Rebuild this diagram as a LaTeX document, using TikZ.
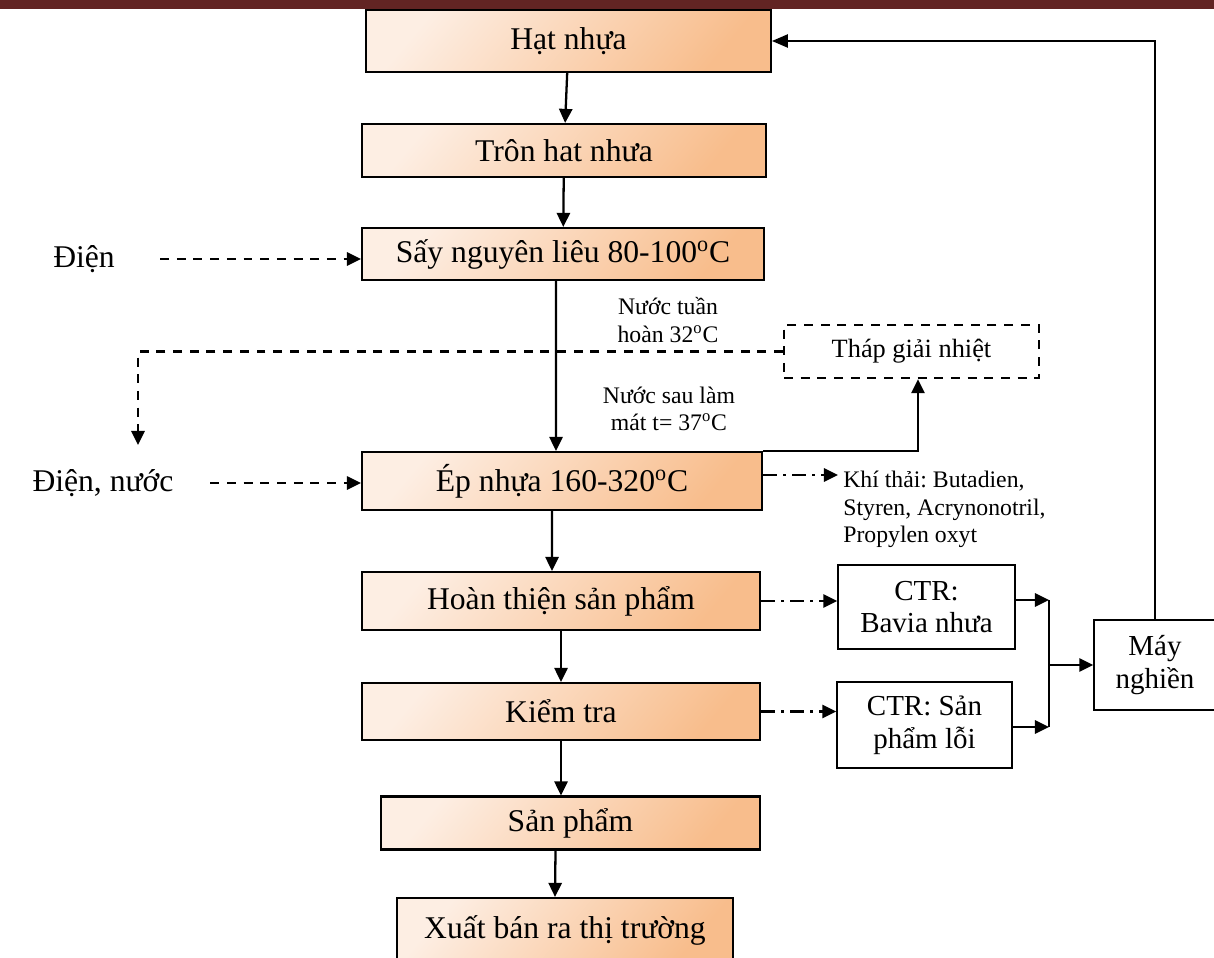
\documentclass[tikz,border=0pt]{standalone}
\usepackage{fontspec}
\setmainfont{Liberation Serif}
\usetikzlibrary{arrows.meta}
\frenchspacing

\definecolor{barred}{HTML}{622423}
\definecolor{peachlight}{HTML}{FDEEE3}
\definecolor{peachdark}{HTML}{F8BD8C}

\tikzset{
  buoc/.style={draw, line width=1.2pt, top color=peachlight, bottom color=peachdark,
    shading angle=50, inner sep=0pt, font=\fontsize{18}{21}\selectfont},
  ctr/.style={draw, line width=0.8pt, fill=white, align=center, inner sep=0pt,
    font=\fontsize{16.5}{18.7}\selectfont},
  ghichu/.style={align=center, inner sep=0pt, font=\fontsize{13.5}{15.6}\selectfont},
  vao/.style={inner sep=0pt, font=\fontsize{18}{21}\selectfont},
  arr/.style={line width=1.3pt, -{Triangle[length=8pt,width=7.5pt]}},
  dasharr/.style={line width=1.3pt, dash pattern=on 5.1pt off 4.4pt, -{Triangle[length=8pt,width=7.5pt]}},
  dotarr/.style={line width=1.3pt, dash pattern=on 8pt off 3.4pt on 1.7pt off 3.4pt, -{Triangle[length=8pt,width=7.5pt]}},
}

\begin{document}
\begin{tikzpicture}[x=0.02cm, y=-0.02cm]
\useasboundingbox (0,0) rectangle (1214,957);
\clip (0,0) rectangle (1214,957);
\fill[barred] (0,0) rectangle (1214,9);

\node[buoc, minimum width=8.1cm, minimum height=1.24cm] (hat) at (568.5,41) {Hạt nhựa};
\node[buoc, minimum width=8.08cm, minimum height=1.06cm] (tron) at (564,150.5) {Trôn hat nhưa};
\node[buoc, minimum width=8.04cm, minimum height=1.04cm] (say) at (563,254) {Sấy nguyên liêu 80-100\textsuperscript{o}C};
\node[buoc, minimum width=8cm, minimum height=1.16cm] (ep) at (562,481) {Ép nhựa 160-320\textsuperscript{o}C};
\node[buoc, minimum width=7.96cm, minimum height=1.16cm] (hoan) at (561,601) {Hoàn thiện sản phẩm};
\node[buoc, minimum width=7.96cm, minimum height=1.14cm] (kiem) at (561,711.5) {Kiểm tra};
\node[buoc, minimum width=7.58cm, minimum height=1.06cm] (sp) at (570.5,823) {Sản phẩm};
\node[buoc, minimum width=6.72cm, minimum height=1.28cm] (xuat) at (565,930) {Xuất bán ra thị trường};

\node[vao] (dien) at (84,259) {Điện};
\node[vao] (diennuoc) at (103,483) {Điện, nước};
\node[draw, line width=1.3pt, dash pattern=on 5.1pt off 4.4pt, minimum width=5.1cm, minimum height=1.06cm,
  inner sep=0pt, font=\fontsize{15}{18}\selectfont] (thap) at (911.5,351.5) {Tháp giải nhiệt};
\node[ghichu] (tuanhoan) at (668,320) {Nước tuần\\hoàn 32\textsuperscript{o}C};
\node[ghichu] (lammat) at (669,409) {Nước sau làm\\mát t= 37\textsuperscript{o}C};
\node[ghichu, align=left, anchor=north west] (khithai) at (843,471) {Khí thải: Butadien,\\Styren, Acrynonotril,\\Propylen oxyt};
\node[ctr, minimum width=3.54cm, minimum height=1.68cm] (bavia) at (926.5,607) {CTR:\\Bavia nhưa};
\node[ctr, minimum width=3.5cm, minimum height=1.72cm] (loi) at (924.5,725) {CTR: Sản\\phẩm lỗi};
\node[ctr, minimum width=2.44cm, minimum height=1.8cm] (may) at (1155,665) {Máy\\nghiền};

\coordinate (nuocve) at (138,445);
\coordinate (khivao) at (838,475);
\coordinate (gop1) at (1049,600);
\coordinate (gop2) at (1049,727);

\draw[arr] (hat) -- (tron);
\draw[arr] (tron) -- (say);
\draw[arr] ([xshift=-0.14cm]say.south) -- ([xshift=-0.12cm]ep.north);
\draw[arr] ([xshift=-0.2cm]ep.south) -- ([xshift=-0.18cm]hoan.north);
\draw[arr] (hoan) -- (kiem);
\draw[arr] (kiem.south) -- (kiem.south |- sp.north);
\draw[arr] ([xshift=-0.3cm]sp.south) -- ([xshift=-0.2cm]xuat.north);

\draw[dasharr, shorten <=0.9cm] (dien.east) -- (dien.east -| say.west);
\draw[dasharr, shorten <=0.73cm] (diennuoc.east) -- (diennuoc.east -| ep.west);
\draw[dasharr] (thap.west) -| (nuocve);
\draw[arr] (ep.north east) -| ([xshift=0.13cm]thap.south);

\draw[dotarr] (ep.east |- khivao) -- (khivao);
\draw[dotarr] (hoan.east) -- (hoan.east -| bavia.west);
\draw[dotarr] (kiem.east) -- (kiem.east -| loi.west);
\draw[arr] (bavia.east |- gop1) -- (gop1);
\draw[arr] (loi.east |- gop2) -- (gop2);
\draw[line width=1.3pt] (gop1) -- (gop2);
\draw[arr] (gop1 |- may.west) -- (may.west);
\draw[line width=0.9pt, -{Triangle[length=9pt,width=7.5pt]}] (may.north) |- (hat.east);
\end{tikzpicture}
\end{document}
